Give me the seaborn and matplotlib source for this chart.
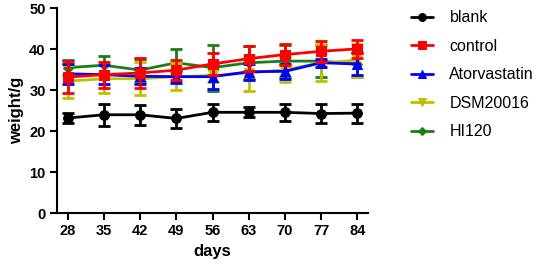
import matplotlib
matplotlib.use("Agg")
import matplotlib.pyplot as plt
import seaborn as sns
import pandas as pd

# 数据
days = [28, 35, 42, 49, 56, 63, 70, 77, 84]
groups = ['blank', 'control', 'Atorvastatin', 'DSM20016', 'HI120']

blank_mean = [23.2, 24.0, 24.0, 23.1, 24.6, 24.6, 24.6, 24.3, 24.4]
blank_sd = [1.3, 2.7, 2.5, 2.4, 2.1, 1.2, 2.1, 2.4, 2.3]
control_mean = [33.2, 33.8, 34.2, 34.9, 36.4, 37.7, 38.7, 39.5, 40.1]
control_sd = [4.0, 3.2, 3.6, 2.5, 2.6, 3.0, 2.5, 2.5, 2.2]
atorva_mean = [34.0, 33.8, 33.4, 33.3, 33.3, 34.5, 34.6, 36.7, 36.4]
atorva_sd = [2.4, 2.4, 2.0, 1.5, 3.1, 2.0, 1.9, 1.0, 2.7]
dsm_mean = [32.2, 32.8, 32.8, 33.3, 33.6, 34.2, 35.0, 36.7, 37.3]
dsm_sd = [4.0, 3.4, 4.0, 3.3, 1.5, 4.5, 3.1, 4.5, 4.0]
hi_mean = [35.5, 36.1, 34.9, 36.7, 35.5, 36.7, 37.1, 37.1, 36.3]
hi_sd = [1.9, 2.2, 2.8, 3.3, 5.6, 4.0, 4.0, 4.0, 3.0]

means = [blank_mean, control_mean, atorva_mean, dsm_mean, hi_mean]
sds = [blank_sd, control_sd, atorva_sd, dsm_sd, hi_sd]
colors = ['black', '#FF0000', '#0000FF', '#C0C000', '#1A7F1A']
markers = ['o', 's', '^', 'v', 'D']
msizes = [7, 7, 7, 7, 5]
zorders = [2, 7, 6, 4, 3]

sns.set_style('ticks')
plt.rcParams['font.family'] = ['Liberation Sans', 'DejaVu Sans']
plt.rcParams.update({'text.color': 'black', 'axes.labelcolor': 'black',
                     'xtick.color': 'black', 'ytick.color': 'black',
                     'axes.edgecolor': 'black'})

fig = plt.figure(figsize=(5.36, 2.67), dpi=100)
ax = fig.add_axes([0.106, 0.202, 0.581, 0.767])

for name, m, s, c, mk, ms, z in zip(groups, means, sds, colors, markers, msizes, zorders):
    df = pd.DataFrame({'days': days, 'weight': m})
    ax.errorbar(days, m, yerr=s, fmt='none', ecolor=c, elinewidth=2,
                capsize=4, capthick=2, zorder=z)
    sns.lineplot(data=df, x='days', y='weight', color=c, marker=mk,
                 markersize=ms, markeredgecolor=c, linewidth=2, label=name,
                 ax=ax, zorder=z + 0.5)

ax.set_xlim(25.9, 86.1)
ax.set_ylim(0, 50)
ax.set_xticks(days)
ax.set_yticks(range(0, 51, 10))
ax.set_xlabel('days', fontsize=12, fontweight='bold')
ax.set_ylabel('weight/g', fontsize=12, fontweight='bold')
ax.tick_params(axis='both', labelsize=10.5, width=1.5, length=5, pad=3)
for lab in ax.get_xticklabels() + ax.get_yticklabels():
    lab.set_fontweight('bold')
for sp in ['left', 'bottom']:
    ax.spines[sp].set_linewidth(1.5)
sns.despine(ax=ax)

ax.legend(loc='upper left', bbox_to_anchor=(0.767, 0.962),
          bbox_transform=fig.transFigure, frameon=False, fontsize=11.5,
          handlelength=1.4, handletextpad=1.0, labelspacing=0.85,
          markerscale=0.8, borderpad=0, borderaxespad=0)

fig.savefig('out.png', dpi=100)
